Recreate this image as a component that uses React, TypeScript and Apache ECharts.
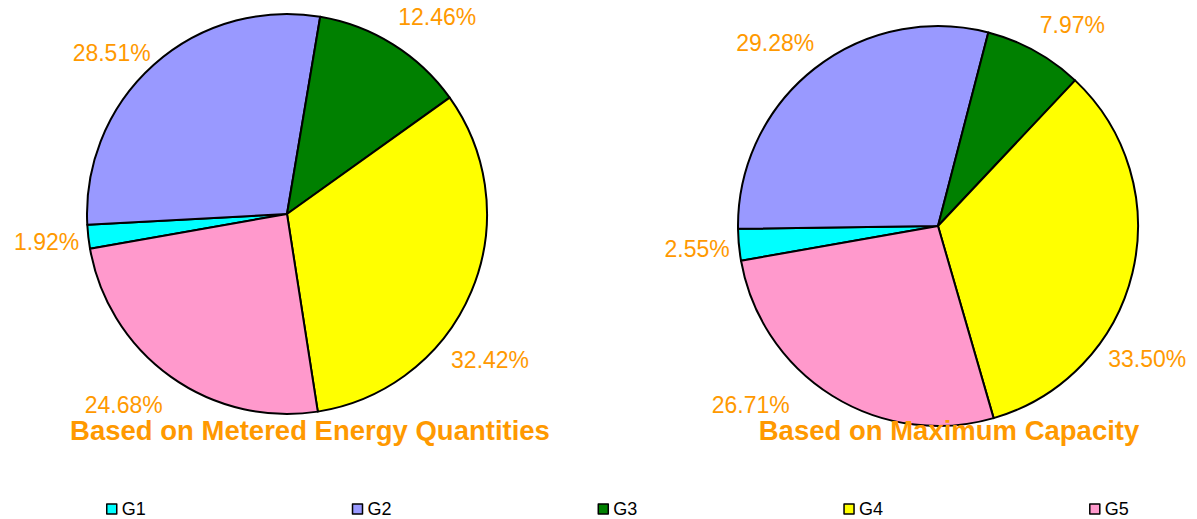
import React, { useEffect, useRef } from "react";
import * as echarts from "echarts";

const categories = ["G1", "G2", "G3", "G4", "G5"];
const meteredShares = [1.92, 28.51, 12.46, 32.42, 24.68];
const capacityShares = [2.55, 29.28, 7.97, 33.5, 26.71];
const colors = ["#00FFFF", "#9999FF", "#008000", "#FFFF00", "#FF99CC"];
const titles = ["Based on Metered Energy Quantities", "Based on Maximum Capacity"];

// label placement style: angular nudge (degrees) of each percentage label from its slice's mid-angle,
// and the distance of the label centre from the pie centre
const labelAngleNudges = [
  [0, 5.7, -5.3, -12.9, -5],
  [0, 3.5, -4.8, -18.9, -14.4],
];
const labelDistances = [
  [242, 238, 248, 250, 251],
  [242, 245, 242, 248, 259],
];

const FONT = "'Liberation Sans', Arial, Helvetica, sans-serif";
const ORANGE = "#FF9900";
const START_ANGLE = 190;
const RADIUS = 200;
const centers: [number, number][] = [
  [287, 214],
  [938, 226],
];

function midAngles(values: number[]) {
  const total = values.reduce((a, b) => a + b, 0);
  let a = START_ANGLE;
  return values.map((v) => {
    const span = (v / total) * 360;
    const mid = a - span / 2;
    a -= span;
    return mid;
  });
}

const allValues = [meteredShares, capacityShares];
const allMids = allValues.map(midAngles);

function makePie(idx: number) {
  const values = allValues[idx];
  const center = centers[idx];
  return {
    type: "pie",
    name: titles[idx],
    center,
    radius: RADIUS,
    startAngle: START_ANGLE,
    clockwise: true,
    avoidLabelOverlap: false,
    silent: true,
    data: categories.map((c, i) => ({
      name: c,
      value: values[i],
      itemStyle: { color: colors[i] },
    })),
    itemStyle: { borderColor: "#000000", borderWidth: 2 },
    label: {
      show: true,
      position: "outside",
      color: ORANGE,
      fontFamily: FONT,
      fontSize: 23,
      formatter: (p: any) => Number(p.value).toFixed(2) + "%",
    },
    labelLine: { show: false, length: 16, length2: 0 },
    labelLayout: (p: any) => {
      const i = p.dataIndex;
      const ang = ((allMids[idx][i] + labelAngleNudges[idx][i]) * Math.PI) / 180;
      const d = labelDistances[idx][i];
      return {
        x: center[0] + d * Math.cos(ang),
        y: center[1] - d * Math.sin(ang),
        align: "center",
        verticalAlign: "middle",
      };
    },
    emphasis: { disabled: true },
  };
}

export default function App() {
  const ref = useRef<HTMLDivElement>(null);
  useEffect(() => {
    if (!ref.current) return;
    const chart = echarts.init(ref.current, undefined, { renderer: "svg" });
    const titleStyle = { color: ORANGE, fontFamily: FONT, fontWeight: "bold", fontSize: 27.5 };
    chart.setOption({
      animation: false,
      backgroundColor: "#FFFFFF",
      title: [
        { text: titles[0], left: 310, top: 416, padding: 0, textAlign: "center", textStyle: titleStyle },
        { text: titles[1], left: 949, top: 416, padding: 0, textAlign: "center", textStyle: titleStyle },
      ],
      legend: {
        data: categories,
        left: 106,
        top: 500,
        padding: 0,
        itemWidth: 10,
        itemHeight: 10,
        itemGap: 206,
        icon: "rect",
        selectedMode: false,
        itemStyle: { borderColor: "#000000", borderWidth: 1.5 },
        textStyle: { color: "#000000", fontFamily: FONT, fontSize: 18 },
      },
      series: [makePie(0), makePie(1)],
    });
    return () => chart.dispose();
  }, []);
  return (
    <div
      ref={ref}
      style={{ position: "fixed", left: 0, top: 0, width: 1197, height: 519 }}
    />
  );
}
